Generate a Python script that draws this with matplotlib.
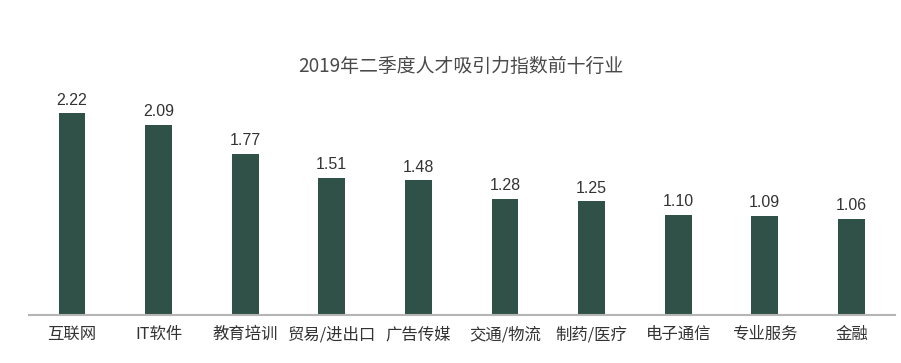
import numpy as np
import matplotlib.pyplot as plt

plt.rcParams['font.family'] = ['Noto Sans CJK SC', 'DejaVu Sans']

categories = ['互联网', 'IT软件', '教育培训', '贸易/进出口', '广告传媒',
              '交通/物流', '制药/医疗', '电子通信', '专业服务', '金融']
values = [2.22, 2.09, 1.77, 1.51, 1.48, 1.28, 1.25, 1.10, 1.09, 1.06]
value_labels = ['2.22', '2.09', '1.77', '1.51', '1.48', '1.28', '1.25', '1.10', '1.09', '1.06']

W, H = 901, 363
fig = plt.figure(figsize=(W / 100, H / 100), dpi=100)
# axes placed in pixel coords: left 28.7, right 894.7, baseline 315
ymax = 2.6
px_per_unit = 91.0
ax_h = ymax * px_per_unit
ax = fig.add_axes([28.7 / W, (H - 315) / H, 866 / W, ax_h / H])

x = np.arange(len(categories))
bar_color = '#2f5147'
ax.bar(x, values, width=0.31, color=bar_color, zorder=2)

for xi, v, lab in zip(x, values, value_labels):
    ax.text(xi, v + 0.06, lab, ha='center', va='bottom', fontsize=11.5,
            family=['Liberation Sans', 'DejaVu Sans'], color='#333333')

ax.set_xlim(-0.5, len(categories) - 0.5)
ax.set_ylim(0, ymax)
ax.set_yticks([])
ax.set_xticks(x)
ax.set_xticklabels(categories, fontsize=11.8, color='#333333')
ax.tick_params(axis='x', length=0, pad=8)
for s in ['top', 'right', 'left']:
    ax.spines[s].set_visible(False)
ax.spines['bottom'].set_color('#b5b5b5')
ax.spines['bottom'].set_linewidth(1.5)

fig.text(461 / W, 1 - 66 / H, '2019年二季度人才吸引力指数前十行业', ha='center', va='center',
         fontsize=13.6, color='#4a4a4a')

fig.savefig('out.png', dpi=100, facecolor='white')
